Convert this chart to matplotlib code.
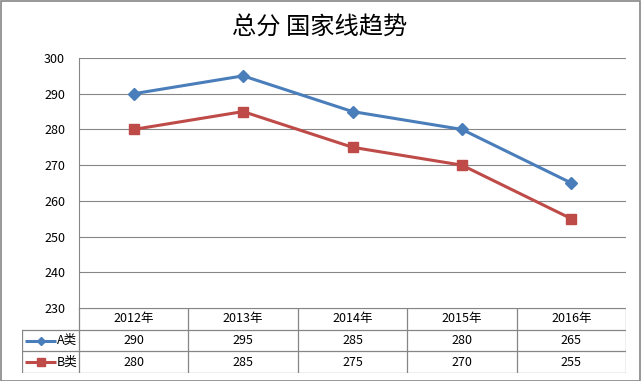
import matplotlib
matplotlib.use("Agg")
import matplotlib.pyplot as plt
from matplotlib.patches import Rectangle

plt.rcParams['font.family'] = ['Noto Sans CJK SC', 'DejaVu Sans']

title = "总分 国家线趋势"
categories = ["2012年", "2013年", "2014年", "2015年", "2016年"]
series_names = ["A类", "B类"]
series_a = [290, 295, 285, 280, 265]
series_b = [280, 285, 275, 270, 255]
y_ticks = [230, 240, 250, 260, 270, 280, 290, 300]

W, H = 641, 381
fig = plt.figure(figsize=(W / 100, H / 100), dpi=100)

def px(x0, y0, x1, y1):
    return [x0 / W, 1 - y1 / H, (x1 - x0) / W, (y1 - y0) / H]

grid_c = "#868686"
blue = "#4A7EBB"
red = "#BE4B48"

# outer border
fig.patches.append(Rectangle((0.5 / W, 0.5 / H), (W - 1.5) / W, (H - 1.5) / H,
                             transform=fig.transFigure, fill=False,
                             edgecolor=grid_c, linewidth=1.2))

fig.text(320 / W, 1 - 28 / H, title, ha="center", va="center",
         fontsize=17.5, fontweight="medium")

n = len(categories)
ax = fig.add_axes(px(79, 58, 626, 308))
ax.set_xlim(-0.5, n - 0.5)
ax.set_ylim(y_ticks[0], y_ticks[-1])
ax.set_yticks(y_ticks)
ax.tick_params(axis="y", length=0, labelsize=9, pad=10)
ax.set_xticks([])
for s in ["top", "right", "bottom"]:
    ax.spines[s].set_visible(False)
ax.spines["left"].set_color(grid_c)
ax.spines["left"].set_linewidth(0.8)
for t in y_ticks:
    ax.axhline(t, color=grid_c, linewidth=0.8, zorder=0)

xs = list(range(n))
ax.plot(xs, series_a, color=blue, linewidth=2.2, marker="D", markersize=6,
        markerfacecolor=blue, markeredgecolor=blue, clip_on=False)
ax.plot(xs, series_b, color=red, linewidth=2.2, marker="s", markersize=7,
        markerfacecolor=red, markeredgecolor=red, clip_on=False)

# data table
col_w = (626 - 79) / n
left_extra = (79 - 22) / col_w
tax = fig.add_axes(px(22, 308, 626, 373))
tax.set_xlim(-0.5 - left_extra, n - 0.5)
tax.set_ylim(3, 0)
tax.axis("off")
lw = 0.9
tax.plot([-0.5, n - 0.5], [0, 0], color=grid_c, lw=lw)
for r in [1, 2, 3]:
    tax.plot([-0.5 - left_extra, n - 0.5], [r, r], color=grid_c, lw=lw,
             solid_capstyle="butt")
for c in range(n + 1):
    tax.plot([c - 0.5, c - 0.5], [0, 3], color=grid_c, lw=lw)
tax.plot([-0.5 - left_extra] * 2, [1, 3], color=grid_c, lw=lw)

for i, cat in enumerate(categories):
    tax.text(i, 0.5, cat, ha="center", va="center", fontsize=9)
for row, (vals, name, col, mk, ms) in enumerate(
        [(series_a, series_names[0], blue, "D", 4.5),
         (series_b, series_names[1], red, "s", 6)], start=1):
    for i, v in enumerate(vals):
        tax.text(i, row + 0.5, str(v), ha="center", va="center", fontsize=9)
    x0 = -0.5 - left_extra + 0.03
    x1 = x0 + 0.28
    tax.plot([x0, x1], [row + 0.5] * 2, color=col, lw=2.2, solid_capstyle="butt")
    tax.plot([(x0 + x1) / 2], [row + 0.5], marker=mk, color=col, markersize=ms)
    tax.text(x1 + 0.005, row + 0.5, name, ha="left", va="center", fontsize=9)

fig.savefig("out.png", dpi=100)
